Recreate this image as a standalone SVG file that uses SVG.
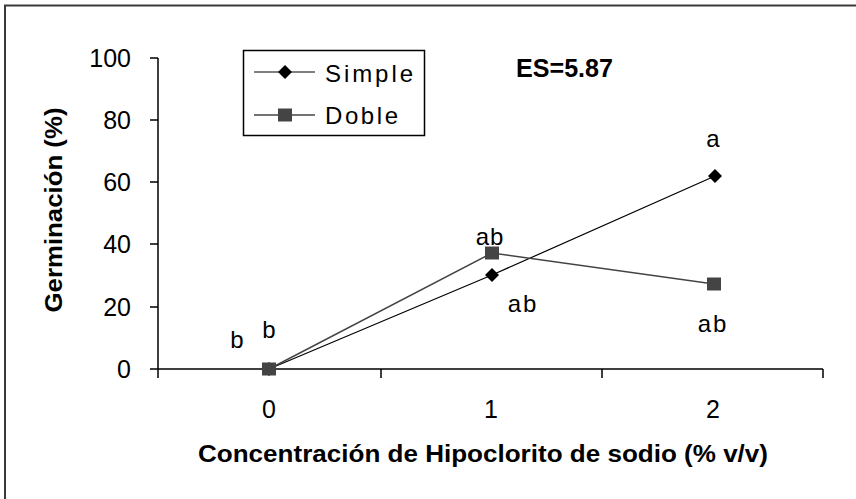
<svg xmlns="http://www.w3.org/2000/svg" width="856" height="499" viewBox="0 0 856 499">
<style>
text{font-family:"Liberation Sans",Arial,sans-serif;fill:#000}
.tick{font-size:25px}
.lbl{font-size:24px;text-anchor:middle}
.title{font-size:23px;font-weight:bold}
.ax{stroke:#000;stroke-width:1.5;fill:none}
.simple{stroke:#000;stroke-width:1.2;fill:none}
.doble{stroke:#444;stroke-width:1.5;fill:none}
</style>
<defs>
<path id="dia" d="M0,-7 L7,0 L0,7 L-7,0Z" fill="#000"/>
<rect id="sq" x="-7" y="-6.5" width="14" height="13" fill="#444"/>
</defs>
<rect x="0" y="0" width="856" height="499" fill="#fff"/>
<path d="M5,499 V5.5 H856" stroke="#3a3a3a" stroke-width="2" fill="none"/>

<g id="axes">
<path class="ax" d="M158,58 V369 H823"/>
<path class="ax" d="M150,58H158 M150,120H158 M150,182H158 M150,244H158 M150,307H158 M150,369H158"/>
<path class="ax" d="M158,369V378 M381,369V378 M602,369V378 M823,369V378"/>
<g class="tick" text-anchor="end">
<text x="131" y="67">100</text>
<text x="131" y="129">80</text>
<text x="131" y="191">60</text>
<text x="131" y="253">40</text>
<text x="131" y="316">20</text>
<text x="131" y="378">0</text>
</g>
<g class="tick" text-anchor="middle">
<text x="269" y="418">0</text>
<text x="491" y="418">1</text>
<text x="713" y="418">2</text>
</g>
<text class="title" x="198" y="462" textLength="570" lengthAdjust="spacingAndGlyphs">Concentración de Hipoclorito de sodio (% v/v)</text>
<text class="title" transform="translate(62,210) rotate(-90)" text-anchor="middle" textLength="205" lengthAdjust="spacingAndGlyphs">Germinación (%)</text>
</g>

<g id="connectors">
<polyline class="simple" points="269,369 492,275 715,176"/>
<polyline class="doble" points="269,369 492,253 714,284"/>
</g>

<g id="series-simple">
<use href="#dia" x="269" y="369"/>
<use href="#dia" x="492" y="275"/>
<use href="#dia" x="715" y="176"/>
</g>
<g id="series-doble">
<use href="#sq" x="269" y="369"/>
<use href="#sq" x="492" y="253"/>
<use href="#sq" x="714" y="284"/>
</g>

<g id="letters" class="lbl">
<text x="237" y="348">b</text>
<text x="269" y="338">b</text>
<text x="490" y="245" letter-spacing="1">ab</text>
<text x="523" y="312" letter-spacing="2">ab</text>
<text x="713" y="332" letter-spacing="2">ab</text>
<text x="713" y="147">a</text>
</g>

<text id="es" x="516" y="77" font-size="25" font-weight="bold" textLength="97" lengthAdjust="spacingAndGlyphs">ES=5.87</text>

<g id="legend">
<rect x="243.5" y="50.5" width="181" height="85" fill="#fff" stroke="#000" stroke-width="1.5"/>
<line class="simple" x1="254" y1="72" x2="315" y2="72"/>
<use href="#dia" x="285" y="72"/>
<text x="325" y="82" font-size="24" textLength="88" lengthAdjust="spacing">Simple</text>
<line class="doble" x1="254" y1="115" x2="315" y2="115"/>
<use href="#sq" x="285" y="115"/>
<text x="325" y="124" font-size="24" textLength="73" lengthAdjust="spacing">Doble</text>
</g>
</svg>
